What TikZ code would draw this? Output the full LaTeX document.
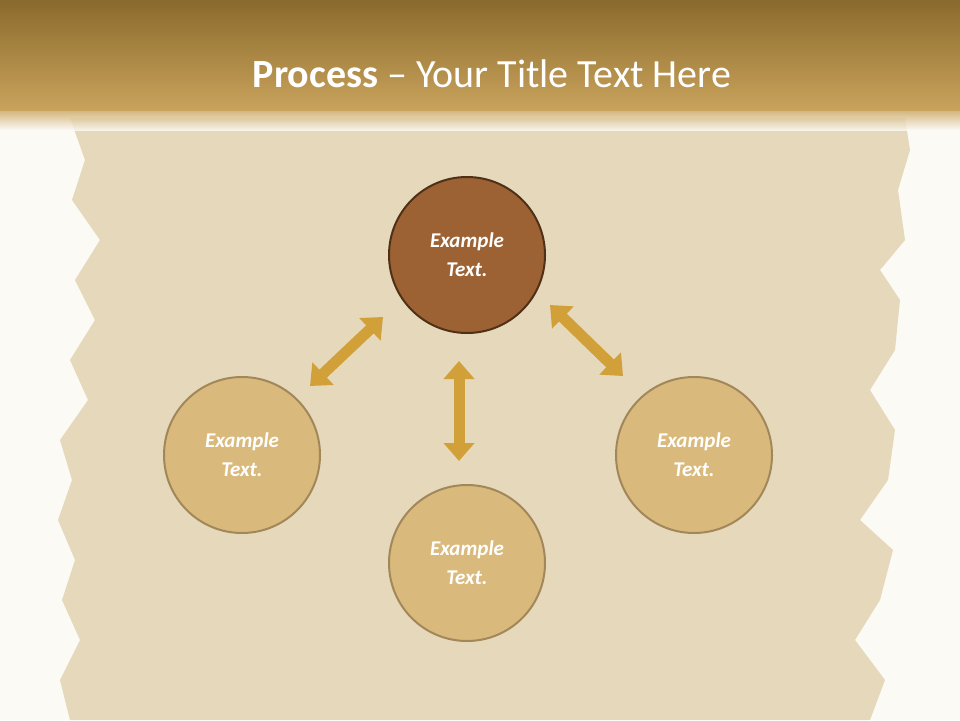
\documentclass[tikz,border=0pt]{standalone}
\usepackage{fontspec}
\setmainfont{Carlito}
\usetikzlibrary{arrows.meta,positioning}
\definecolor{barTop}{HTML}{8A6A2C}
\definecolor{barBot}{HTML}{C9A35C}
\definecolor{paper}{HTML}{E6D8BA}
\definecolor{bgwhite}{HTML}{FBFAF5}
\definecolor{darkfill}{HTML}{9C6234}
\definecolor{darkline}{HTML}{503016}
\definecolor{lightfill}{HTML}{D9BA7C}
\definecolor{lightline}{HTML}{A2875A}
\definecolor{arrowgold}{HTML}{D2A038}
\tikzset{
  stage/.style={circle,minimum size=156pt,line width=2pt,draw=lightline,fill=lightfill,
    text=white,font=\bfseries\itshape\fontsize{21}{29}\selectfont,align=center},
  stagetop/.style={stage,draw=darkline,fill=darkfill},
  twoway/.style={arrowgold,line width=11pt,{Triangle[width=30pt,length=18pt]}-{Triangle[width=30pt,length=18pt]}}
}
\begin{document}
\begin{tikzpicture}[x=1pt,y=-1pt]
\useasboundingbox (0,0) rectangle (960,720);
\fill[bgwhite] (0,0) rectangle (960,720);

% parchment
\fill[paper] (70,118) -- (905,118) -- (910,150) -- (898,190) -- (905,240) -- (880,270)
  -- (900,300) -- (895,350) -- (870,390) -- (895,430) -- (888,480) -- (860,520)
  -- (893,550) -- (880,600) -- (855,640) -- (885,680) -- (870,720) -- (70,720)
  -- (60,680) -- (80,640) -- (62,600) -- (75,560) -- (58,520) -- (72,480)
  -- (60,440) -- (88,400) -- (70,360) -- (95,320) -- (75,280) -- (100,240)
  -- (72,200) -- (85,160) -- cycle;

% title bar
\shade[top color=barTop,bottom color=barBot] (0,0) rectangle (960,110);
\shade[top color=barBot,bottom color=bgwhite,opacity=0.8] (0,110) rectangle (960,130);
\node[text=white,font=\fontsize{40}{44}\selectfont] (title) at (492,74)
  {\textbf{Process} -- Your Title Text Here};

% circles
\node[stagetop] (top) at (467,255) {Example\\Text.};
\node[stage] (left) at (242,455) {Example\\Text.};
\node[stage] (right) at (694,455) {Example\\Text.};
\node[stage] (bottom) at (467,563) {Example\\Text.};

% arrows
\coordinate (la) at (310,386);
\coordinate (lb) at (383,317);
\coordinate (ra) at (550,305);
\coordinate (rb) at (623,376);
\coordinate (va) at (459,361);
\coordinate (vb) at (459,461);
\draw[twoway] (la) -- (lb);
\draw[twoway] (ra) -- (rb);
\draw[twoway] (va) -- (vb);
\end{tikzpicture}
\end{document}
